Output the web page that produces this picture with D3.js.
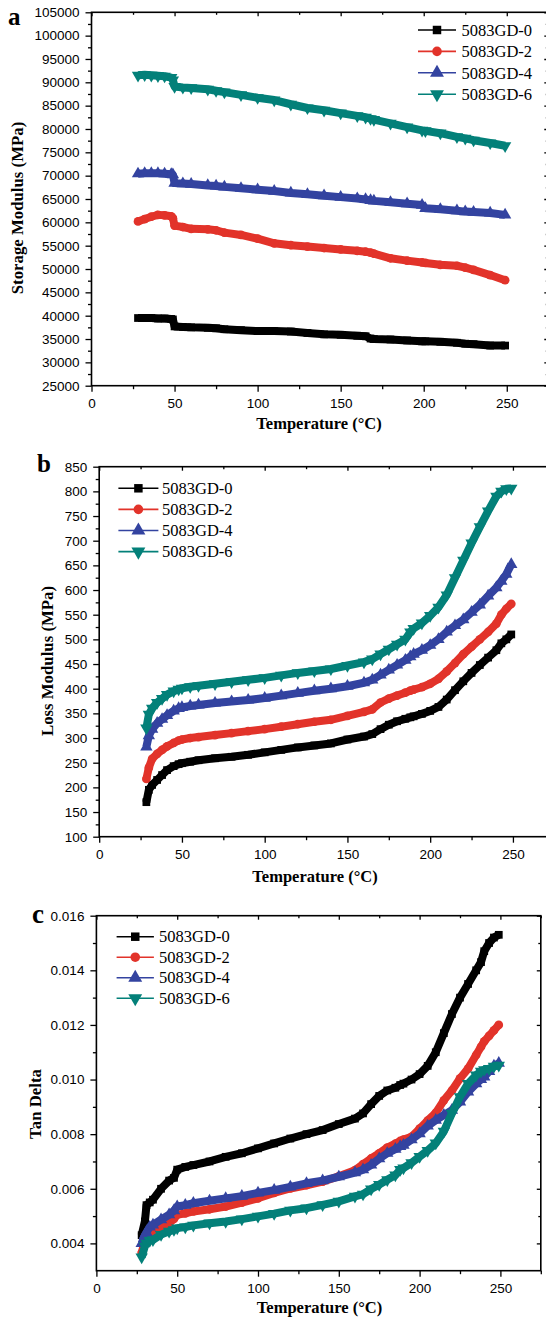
<!DOCTYPE html>
<html>
<head>
<meta charset="utf-8">
<script src="https://cdn.jsdelivr.net/npm/d3@7"></script>
<style>
  html, body { margin: 0; padding: 0; background: #fff; }
  svg { display: block; }
</style>
</head>
<body>
<svg id="fig" width="546" height="1319"></svg>
<script>
// ---- series names and styling order ----
const seriesNames = ["5083GD-0", "5083GD-2", "5083GD-4", "5083GD-6"];

// ---- (a) storage modulus, MPa ----
const tempA = [28, 32, 36, 40, 44, 48, 49, 50, 55, 60, 70, 75, 80, 90, 100, 110, 120, 130, 140, 150,
               160, 165, 168, 170, 180, 190, 199, 201, 210, 220, 225, 230, 240, 249];
const storage0 = [39500, 39500, 39500, 39400, 39400, 39300, 39200, 37700, 37600, 37500, 37400, 37300, 37100, 36900, 36700, 36700, 36600, 36300, 36000, 35900,
                  35700, 35600, 35100, 35000, 34900, 34700, 34500, 34500, 34400, 34200, 34000, 33900, 33600, 33600];
const storage2 = [60200, 60700, 61200, 61600, 61500, 61300, 60900, 59300, 59000, 58600, 58500, 58300, 57800, 57300, 56500, 55500, 55100, 54800, 54500, 54200,
                  53900, 53700, 53500, 53300, 52300, 51800, 51400, 51300, 50900, 50700, 50300, 49800, 48700, 47600];
const storage4 = [70400, 70500, 70500, 70500, 70400, 70300, 70200, 68400, 68300, 68200, 67900, 67800, 67600, 67300, 67000, 66700, 66300, 66000, 65700, 65400,
                  65100, 64900, 64700, 64600, 64300, 64000, 63700, 63000, 62800, 62500, 62300, 62200, 62000, 61600];
const storage6 = [91500, 91600, 91500, 91400, 91300, 91000, 90500, 89100, 88900, 88800, 88500, 88200, 87900, 87300, 86700, 86200, 85300, 84500, 84000, 83400,
                  82800, 82500, 82200, 82000, 81200, 80400, 79700, 79600, 79100, 78300, 78000, 77600, 77000, 76400];

// ---- (b) loss modulus, MPa ----
const tempB = [28.5, 30, 32, 35, 38, 41, 45, 48, 50, 55, 60, 70, 80, 90, 100, 110, 120, 130, 140, 150,
               160, 165, 170, 175, 180, 185, 188, 190, 195, 200, 205, 210, 215, 220, 225, 230, 235, 240, 243, 246, 249];
const loss0 = [170, 195, 205, 215, 225, 235, 243, 247, 249, 252, 255, 259, 262, 266, 271, 276, 281, 285, 289, 297,
               303, 308, 318, 327, 334, 339, 342, 344, 349, 355, 363, 378, 397, 415, 432, 448, 463, 478, 492, 500, 510];
const loss2 = [217, 240, 258, 268, 276, 283, 290, 295, 297, 300, 302, 306, 310, 314, 318, 323, 328, 333, 337, 345,
               353, 358, 372, 380, 386, 392, 396, 398, 403, 410, 420, 435, 452, 470, 485, 500, 515, 532, 550, 562, 572];
const loss4 = [282, 305, 318, 330, 338, 346, 355, 360, 362, 365, 367, 371, 374, 377, 381, 386, 391, 396, 400, 405,
               412, 418, 428, 438, 448, 458, 465, 470, 478, 488, 500, 515, 528, 540, 555, 570, 588, 605, 618, 632, 652];
const loss6 = [320, 348, 360, 372, 380, 388, 395, 399, 401, 404, 406, 410, 414, 418, 422, 427, 432, 436, 440, 447,
               454, 460, 470, 480, 490, 500, 515, 522, 533, 548, 565, 590, 625, 660, 695, 728, 760, 790, 800, 805, 806];

// ---- (c) tan delta ----
const tempC = [28, 30, 31, 33, 35, 40, 45, 48, 50, 55, 60, 70, 80, 90, 100, 110, 120, 130, 140, 150,
               160, 165, 170, 175, 180, 185, 188, 190, 195, 200, 205, 210, 215, 220, 225, 230, 235, 238, 240, 243, 246, 249];
const tan0 = [0.0043, 0.0048, 0.0054, 0.0055, 0.0056, 0.0060, 0.0063, 0.0064, 0.0067, 0.0068, 0.00687, 0.0070, 0.00717, 0.0073, 0.00748, 0.00766, 0.00784, 0.0080, 0.00815, 0.00837,
              0.00857, 0.00876, 0.0091, 0.0094, 0.0096, 0.0097, 0.0098, 0.00985, 0.0100, 0.0102, 0.0105, 0.0110, 0.0117, 0.0124, 0.0130, 0.0135, 0.0140, 0.0143, 0.0147, 0.0150, 0.0152, 0.0153];
const tan2 = [0.00365, 0.0041, 0.0042, 0.0043, 0.00438, 0.00456, 0.00474, 0.0049, 0.00505, 0.0051, 0.00517, 0.00525, 0.00535, 0.00549, 0.00565, 0.00585, 0.00601, 0.00613, 0.00626, 0.00646,
              0.00668, 0.0069, 0.00711, 0.0073, 0.00751, 0.00765, 0.00775, 0.0078, 0.0079, 0.0082, 0.0085, 0.00878, 0.00924, 0.0096, 0.01004, 0.0104, 0.0109, 0.0112, 0.0114, 0.0116, 0.0118, 0.0120];
const tan4 = [0.0040, 0.0043, 0.0044, 0.0046, 0.00468, 0.00487, 0.00505, 0.0052, 0.00535, 0.0054, 0.00547, 0.00556, 0.00565, 0.00573, 0.00585, 0.00595, 0.00607, 0.0062, 0.0063, 0.00644,
              0.00659, 0.0067, 0.00687, 0.0071, 0.0073, 0.00745, 0.00755, 0.0076, 0.0078, 0.00802, 0.0083, 0.00851, 0.0087, 0.00888, 0.00918, 0.00955, 0.00985, 0.0100, 0.0101, 0.0103, 0.0105, 0.0106];
const tan6 = [0.0035, 0.0039, 0.0040, 0.0041, 0.00413, 0.00432, 0.00444, 0.0045, 0.00456, 0.0046, 0.00466, 0.00474, 0.0048, 0.00489, 0.00499, 0.00509, 0.00521, 0.00529, 0.00541, 0.00554,
              0.00572, 0.0058, 0.00599, 0.00615, 0.00633, 0.0065, 0.0067, 0.00676, 0.00695, 0.00718, 0.0074, 0.00767, 0.0081, 0.00876, 0.00937, 0.00985, 0.01016, 0.0103, 0.01036, 0.0104, 0.01048, 0.01052];

// ---- tick labels ----
const tempTicks = [0, 50, 100, 150, 200, 250];
const storageTicks = [25000, 30000, 35000, 40000, 45000, 50000, 55000, 60000, 65000, 70000, 75000, 80000, 85000, 90000, 95000, 100000, 105000];
const lossTicks = [100, 150, 200, 250, 300, 350, 400, 450, 500, 550, 600, 650, 700, 750, 800, 850];
const tanTicks = [0.004, 0.006, 0.008, 0.010, 0.012, 0.014, 0.016];

// ---- styling ----
const colors = ["#000000", "#e2332a", "#3343a0", "#038079"];
const symbolTypes = [d3.symbolSquare, d3.symbolCircle, d3.symbolTriangle, d3.symbolTriangle];
const symbolRotate = [0, 0, 0, 180];
const symbolSizes = [60, 60, 66, 66];
const legendSizes = [72, 72, 84, 84];

const mid = arr => arr.slice(0, -1).map((v, i) => (v + arr[i + 1]) / 2);
const tempMinor = mid(tempTicks.concat([300]));

const panels = [
  {
    label: "a", labelX: 8, labelY: 25, labelSize: 25,
    xRange: [91.5, 548.3], yRange: [385.7, 12.3], yDomain: [25000, 105000],
    temps: tempA, series: [storage0, storage2, storage4, storage6],
    yTicks: storageTicks, yFmt: d3.format("d"),
    yTitle: "Storage Modulus (MPa)", yTitleX: 17.4, yTitleY: 208,
    xTitleX: 319, xTitleY: 429,
    legend: { x0: 418, x1: 456, y: 30, dy: 21.4, textX: 461.5 }
  },
  {
    label: "b", labelX: 37, labelY: 472, labelSize: 25,
    xRange: [99.2, 554.3], yRange: [836.7, 466.7], yDomain: [100, 850],
    temps: tempB, series: [loss0, loss2, loss4, loss6],
    yTicks: lossTicks, yFmt: d3.format("d"),
    yTitle: "Loss Modulus (MPa)", yTitleX: 47, yTitleY: 661,
    xTitleX: 315, xTitleY: 881.5,
    legend: { x0: 118.4, x1: 158.4, y: 488.3, dy: 21.1, textX: 162 }
  },
  {
    label: "c", labelX: 32, labelY: 923, labelSize: 27,
    xRange: [96.4, 540.8], yRange: [1270.7, 915.7], yDomain: [0.003, 0.016],
    temps: tempC, series: [tan0, tan2, tan4, tan6],
    yTicks: tanTicks, yFmt: d3.format(".3f"),
    yTitle: "Tan Delta", yTitleX: 35, yTitleY: 1104,
    xTitleX: 319.5, xTitleY: 1313,
    legend: { x0: 116.6, x1: 153.9, y: 936.7, dy: 20.5, textX: 159.1 }
  }
];

const svg = d3.select("#fig");
const sans = "'Liberation Sans', Arial, sans-serif";
const serif = "'Liberation Serif', 'Times New Roman', serif";

function styleAxis(g, fontSize) {
  g.select(".domain").remove();
  g.selectAll("line").attr("stroke", "#000").attr("stroke-width", 1.3);
  g.selectAll("text").attr("font-family", sans).attr("font-size", fontSize).attr("fill", "#000");
}

panels.forEach(p => {
  const x = d3.scaleLinear().domain([0, 275]).range(p.xRange);
  const y = d3.scaleLinear().domain(p.yDomain).range(p.yRange);
  const yMinor = mid(p.yTicks);
  const g = svg.append("g");

  // bottom axis: major + minor ticks
  g.append("g").attr("transform", `translate(0,${p.yRange[0]})`)
    .call(d3.axisBottom(x).tickValues(tempTicks).tickSizeInner(6).tickSizeOuter(0).tickPadding(6.4).tickFormat(d3.format("d")))
    .call(a => styleAxis(a, 13.5));
  g.append("g").attr("transform", `translate(0,${p.yRange[0]})`)
    .call(d3.axisBottom(x).tickValues(tempMinor).tickSizeInner(3.5).tickSizeOuter(0).tickFormat(""))
    .call(a => styleAxis(a, 13.5));
  // top axis ticks pointing inward
  g.append("g").attr("transform", `translate(0,${p.yRange[1]})`)
    .call(d3.axisTop(x).tickValues(tempTicks).tickSizeInner(-4).tickSizeOuter(0).tickFormat(""))
    .call(a => styleAxis(a, 13.5));
  g.append("g").attr("transform", `translate(0,${p.yRange[1]})`)
    .call(d3.axisTop(x).tickValues(tempMinor).tickSizeInner(-2.5).tickSizeOuter(0).tickFormat(""))
    .call(a => styleAxis(a, 13.5));

  // left axis
  g.append("g").attr("transform", `translate(${p.xRange[0]},0)`)
    .call(d3.axisLeft(y).tickValues(p.yTicks).tickSizeInner(6).tickSizeOuter(0).tickPadding(6).tickFormat(p.yFmt))
    .call(a => styleAxis(a, 13.5));
  g.append("g").attr("transform", `translate(${p.xRange[0]},0)`)
    .call(d3.axisLeft(y).tickValues(yMinor).tickSizeInner(3.5).tickSizeOuter(0).tickFormat(""))
    .call(a => styleAxis(a, 13.5));
  // right axis ticks pointing inward
  g.append("g").attr("transform", `translate(${p.xRange[1]},0)`)
    .call(d3.axisRight(y).tickValues(p.yTicks).tickSizeInner(-4).tickSizeOuter(0).tickFormat(""))
    .call(a => styleAxis(a, 13.5));
  g.append("g").attr("transform", `translate(${p.xRange[1]},0)`)
    .call(d3.axisRight(y).tickValues(yMinor).tickSizeInner(-2.5).tickSizeOuter(0).tickFormat(""))
    .call(a => styleAxis(a, 13.5));

  // frame
  g.append("rect")
    .attr("x", p.xRange[0]).attr("y", p.yRange[1])
    .attr("width", p.xRange[1] - p.xRange[0]).attr("height", p.yRange[0] - p.yRange[1])
    .attr("fill", "none").attr("stroke", "#000").attr("stroke-width", 1.6);

  // data: dense line+symbol bands
  const line = d3.line().x(d => x(d[0])).y(d => y(d[1]));
  p.series.forEach((vals, si) => {
    const pts = p.temps.map((t, i) => [t, vals[i]]);
    const sg = g.append("g");
    sg.append("path").datum(pts)
      .attr("d", line)
      .attr("fill", "none")
      .attr("stroke", colors[si])
      .attr("stroke-width", 8)
      .attr("stroke-linejoin", "round")
      .attr("stroke-linecap", "butt");
    const sym = d3.symbol().type(symbolTypes[si]).size(symbolSizes[si]);
    sg.selectAll("path.pt").data(pts).join("path")
      .attr("class", "pt")
      .attr("d", sym)
      .attr("transform", d => `translate(${x(d[0])},${y(d[1])}) rotate(${symbolRotate[si]})`)
      .attr("fill", colors[si]);
  });

  // legend
  seriesNames.forEach((name, si) => {
    const ly = p.legend.y + si * p.legend.dy;
    g.append("line")
      .attr("x1", p.legend.x0).attr("x2", p.legend.x1)
      .attr("y1", ly).attr("y2", ly)
      .attr("stroke", colors[si]).attr("stroke-width", 1.6);
    g.append("path")
      .attr("d", d3.symbol().type(symbolTypes[si]).size(legendSizes[si])())
      .attr("transform", `translate(${(p.legend.x0 + p.legend.x1) / 2},${ly}) rotate(${symbolRotate[si]})`)
      .attr("fill", colors[si]);
    g.append("text")
      .attr("x", p.legend.textX).attr("y", ly).attr("dy", "0.35em")
      .attr("font-family", serif).attr("font-size", 16.5)
      .attr("fill", "#000")
      .text(name);
  });

  // axis titles
  g.append("text")
    .attr("transform", `translate(${p.yTitleX},${p.yTitleY}) rotate(-90)`)
    .attr("text-anchor", "middle").attr("dy", "0.35em")
    .attr("font-family", serif).attr("font-weight", "bold").attr("font-size", 16.8)
    .text(p.yTitle);
  g.append("text")
    .attr("x", p.xTitleX).attr("y", p.xTitleY)
    .attr("text-anchor", "middle")
    .attr("font-family", serif).attr("font-weight", "bold").attr("font-size", 16.5)
    .text("Temperature (°C)");

  // panel letter
  g.append("text")
    .attr("x", p.labelX).attr("y", p.labelY)
    .attr("font-family", serif).attr("font-weight", "bold").attr("font-size", p.labelSize)
    .text(p.label);
});
</script>
</body>
</html>
